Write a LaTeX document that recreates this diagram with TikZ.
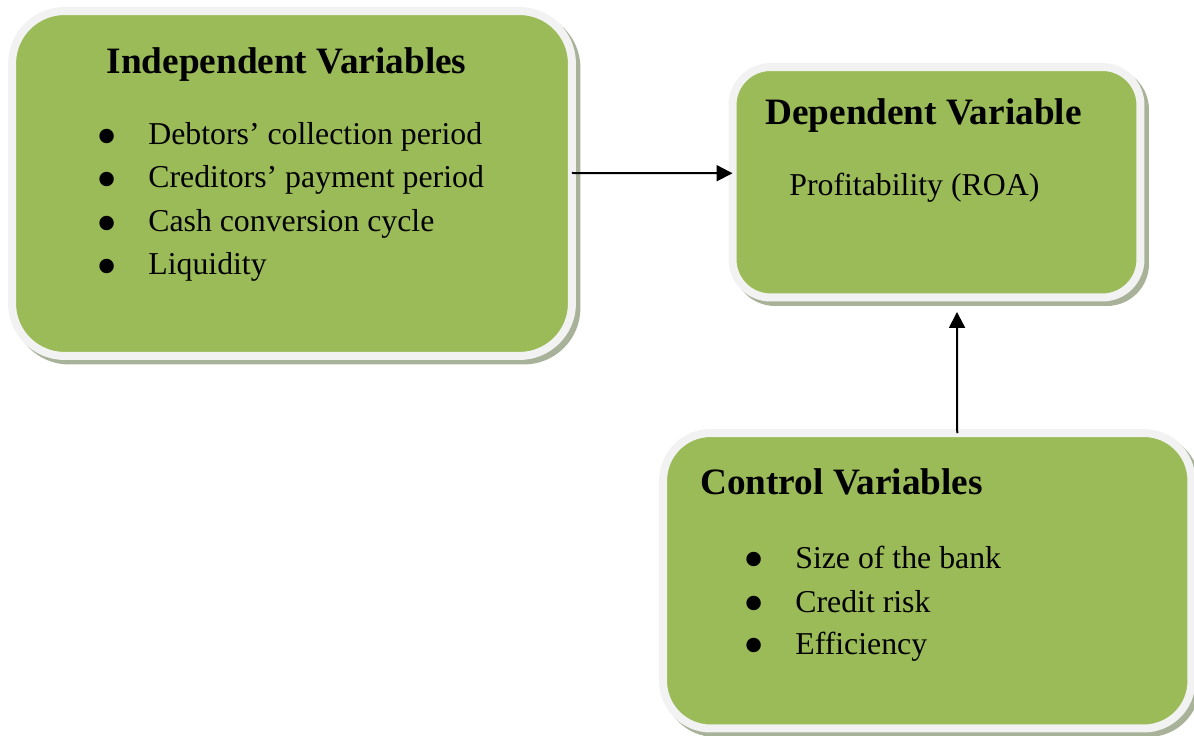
\documentclass[tikz,border=0pt]{standalone}
\usepackage{fontspec}
\setmainfont{Liberation Serif}
\usetikzlibrary{arrows.meta,shadows}
\definecolor{boxgreen}{HTML}{9BBB59}
\definecolor{boxrim}{HTML}{F2F2F2}
\definecolor{rimshadow}{RGB}{168,178,152}
\tikzset{
  varbox/.style={draw=boxrim, fill=boxgreen, line width=0.16cm, outer sep=0pt, inner sep=0pt,
    drop shadow={shadow xshift=0.09cm, shadow yshift=-0.09cm, fill=rimshadow, draw=rimshadow, line width=0.16cm, opacity=1}},
  heading/.style={font=\fontsize{21.2}{25}\selectfont\bfseries, inner sep=0pt, anchor=base west},
  itemtext/.style={font=\fontsize{18.1}{22}\selectfont, inner sep=0pt, anchor=base west},
  link/.style={-{Triangle[length=0.32cm,width=0.32cm]}, line width=0.04cm}
}
\newcommand{\bul}{\makebox[1.03cm][l]{\smash{\raisebox{-0.35em}{\scalebox{1.9}{\textbullet}}}}}
\begin{document}
\begin{tikzpicture}[x=0.02cm,y=-0.02cm]
\useasboundingbox (0,0) rectangle (1194,736);
\node[varbox, minimum width=11.2cm, minimum height=6.9cm, rounded corners=1.05cm] (indep) at (292,183.5) {};
\node[varbox, minimum width=8.16cm, minimum height=4.61cm, rounded corners=0.76cm] (dep) at (936.5,182.25) {};
\node[varbox, minimum width=10.57cm, minimum height=5.91cm, rounded corners=0.95cm] (ctrl) at (927.25,580.75) {};
\node[heading, anchor=base] (indep title) at (286.5,74) {Independent Variables};
\node[itemtext] (debtors) at (96.5,145) {\bul Debtors’ collection period};
\node[itemtext] (creditors) at (96.5,188) {\bul Creditors’ payment period};
\node[itemtext] (ccc) at (96.5,232) {\bul Cash conversion cycle};
\node[itemtext] (liquidity) at (96.5,275) {\bul Liquidity};
\node[heading] (dep title) at (765,125) {Dependent Variable};
\node[itemtext] (roa) at (789,196) {Profitability (ROA)};
\node[heading] (ctrl title) at (700,495) {Control Variables};
\node[itemtext] (size) at (743.5,568) {\bul Size of the bank};
\node[itemtext] (risk) at (743.5,612) {\bul Credit risk};
\node[itemtext] (efficiency) at (743.5,654) {\bul Efficiency};
\draw[link] ([yshift=0.21cm]indep.east) -- ([yshift=0.18cm]dep.west);
\draw[link] ([xshift=0.6cm]ctrl.north) -- ([xshift=0.41cm,yshift=-0.29cm]dep.south);
\end{tikzpicture}
\end{document}
